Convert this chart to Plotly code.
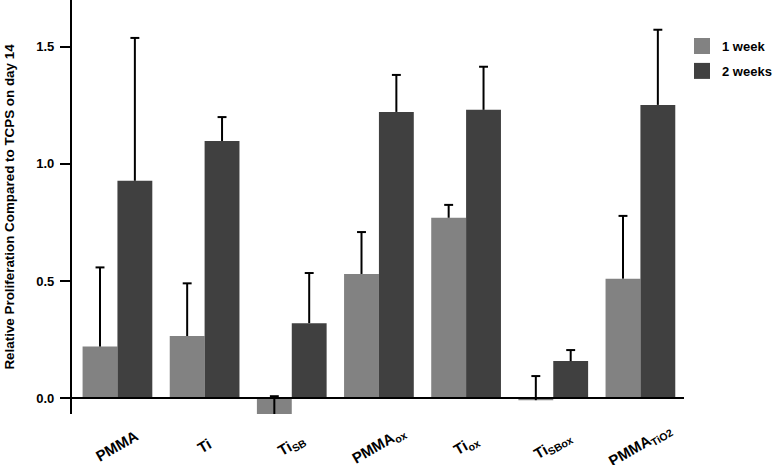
import plotly.graph_objects as go

categories = ["PMMA", "Ti", "Ti<sub>SB</sub>", "PMMA<sub>ox</sub>", "Ti<sub>ox</sub>",
              "Ti<sub>SBox</sub>", "PMMA<sub>TiO2</sub>"]
series_names = ["1 week", "2 weeks"]
week1 = [0.22, 0.265, -0.068, 0.53, 0.77, -0.009, 0.51]
week1_err_top = [0.558, 0.49, 0.008, 0.709, 0.825, 0.094, 0.778]
week2 = [0.928, 1.098, 0.32, 1.222, 1.231, 0.158, 1.252]
week2_err_top = [1.538, 1.20, 0.534, 1.38, 1.415, 0.205, 1.573]
y_ticks = [0.0, 0.5, 1.0, 1.5]

LIGHT = "#828282"
DARK = "#404040"
W = 0.4
idx = list(range(len(categories)))

fig = go.Figure()
fig.add_trace(go.Bar(x=idx, y=week1, width=W, offset=-W, marker=dict(color=LIGHT, line=dict(width=0)),
                     name=series_names[0], showlegend=False))
fig.add_trace(go.Bar(x=idx, y=week2, width=W, offset=0, marker=dict(color=DARK, line=dict(width=0)),
                     name=series_names[1], showlegend=False))

cap = 4.5 / 88.0
for vals, tops, shift in [(week1, week1_err_top, -W / 2), (week2, week2_err_top, W / 2)]:
    ex, ey = [], []
    cx, cy = [], []
    for i, v, t in zip(idx, vals, tops):
        ex += [i + shift, i + shift, None]
        ey += [v, t, None]
        cx += [i + shift - cap, i + shift + cap, None]
        cy += [t, t, None]
    fig.add_trace(go.Scatter(x=ex, y=ey, mode="lines", line=dict(color="black", width=2),
                             showlegend=False, hoverinfo="skip"))
    fig.add_trace(go.Scatter(x=cx, y=cy, mode="lines", line=dict(color="black", width=2),
                             showlegend=False, hoverinfo="skip"))

# legend entries with larger square swatches
for nm, col, grp in [(series_names[0], LIGHT, "a"), (series_names[1], DARK, "b")]:
    fig.add_trace(go.Scatter(x=[None], y=[None], mode="markers", name="<b>" + nm + "</b>",
                             legendgroup=grp,
                             marker=dict(symbol="square", size=17, color=col, line=dict(width=0))))

fig.add_shape(type="line", xref="paper", yref="y", x0=0, x1=1, y0=0, y1=0,
              line=dict(color="black", width=2), layer="above")

# category labels, rotated about their centres
for i, c in zip(idx, categories):
    fig.add_annotation(x=i, xref="x", y=-32 / 414, yref="paper", text="<b>" + c + "</b>",
                       textangle=-30, showarrow=False, xanchor="center", yanchor="middle",
                       font=dict(size=15, color="black"))

fig.update_layout(
    width=777, height=465,
    margin=dict(l=60, r=87, t=0, b=51),
    plot_bgcolor="white", paper_bgcolor="white",
    font=dict(family="Liberation Sans, Arial, sans-serif", color="black"),
    barmode="overlay",
    showlegend=True,
    legend=dict(x=0.997, y=0.925, xanchor="left", yanchor="top", itemsizing="trace",
                font=dict(size=13), traceorder="grouped", tracegroupgap=5,
                bgcolor="rgba(0,0,0,0)"),
    xaxis=dict(
        range=[-0.659, 6.5], showticklabels=False, showline=False, showgrid=False,
        zeroline=False, ticks="", automargin=False,
    ),
    yaxis=dict(
        range=[-0.068, 1.70], anchor="free", position=11 / 630,
        tickmode="array", tickvals=y_ticks,
        ticktext=["<b>%.1f</b>" % v for v in y_ticks],
        tickfont=dict(size=13), ticks="outside", ticklen=10, tickwidth=2,
        tickcolor="black", showline=True, linecolor="black", linewidth=2,
        showgrid=False, zeroline=False, automargin=False, ticklabelstandoff=3,
        title=dict(text="<b>Relative Proliferation Compared to TCPS on day 14</b>",
                   font=dict(size=13.4), standoff=18),
    ),
)

fig.write_html("out.html", config={"displayModeBar": False},
               post_script="document.body.style.margin='0px';")
